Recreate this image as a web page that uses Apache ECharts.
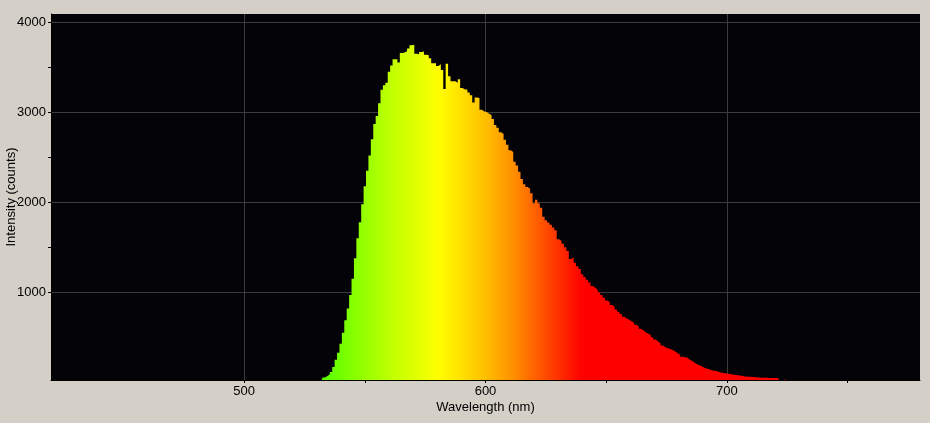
<!DOCTYPE html>
<html>
<head>
<meta charset="utf-8">
<script src="https://cdn.jsdelivr.net/npm/echarts@6/dist/echarts.min.js"></script>
<style>
html,body{margin:0;padding:0;background:#d4d0c8;}
#chart{width:930px;height:423px;}
</style>
</head>
<body>
<div id="chart"></div>
<script>
// Wavelength samples (nm)
const wavelengths = [
  530,531,532,533,534,535,536,537,538,539,
  540,541,542,543,544,545,546,547,548,549,
  550,551,552,553,554,555,556,557,558,559,
  560,561,562,563,564,565,566,567,568,569,
  570,571,572,573,574,575,576,577,578,579,
  580,581,582,583,584,585,586,587,588,589,
  590,591,592,593,594,595,596,597,598,599,
  600,601,602,603,604,605,606,607,608,609,
  610,611,612,613,614,615,616,617,618,619,
  620,621,622,623,624,625,626,627,628,629,
  630,631,632,633,634,635,636,637,638,639,
  640,641,642,643,644,645,646,647,648,649,
  650,651,652,653,654,655,656,657,658,659,
  660,661,662,663,664,665,666,667,668,669,
  670,671,672,673,674,675,676,677,678,679,
  680,681,682,683,684,685,686,687,688,689,
  690,691,692,693,694,695,696,697,698,699,
  700,701,702,703,704,705,706,707,708,709,
  710,711,712,713,714,715,716,717,718,719,
  720,721,722,723,724,725,726
];
// Intensity (counts)
const intensity = [
  10,12,20,55,70,90,115,170,250,330,
  430,550,690,820,970,1150,1380,1600,1780,1980,
  2180,2350,2520,2700,2870,2960,3100,3250,3300,3330,
  3450,3520,3590,3590,3555,3660,3665,3680,3710,3745,
  3750,3650,3645,3670,3675,3640,3635,3600,3545,3545,
  3515,3535,3470,3260,3540,3400,3345,3345,3330,3367,
  3270,3255,3255,3220,3190,3110,3165,3160,3030,3010,
  3005,2985,2970,2925,2860,2830,2780,2760,2695,2640,
  2580,2560,2450,2410,2340,2260,2200,2170,2150,2100,
  1990,2030,1990,1940,1840,1800,1775,1750,1720,1690,
  1590,1570,1540,1500,1460,1370,1390,1330,1290,1260,
  1200,1170,1140,1110,1070,1050,1030,1000,970,940,
  910,890,860,840,810,785,760,730,710,695,
  680,665,640,620,595,575,555,540,525,500,
  475,455,435,410,390,380,370,360,345,325,
  310,285,278,275,255,240,220,205,190,178,
  165,155,145,137,130,125,117,110,105,102,
  96,92,86,81,78,75,70,66,63,61,
  60,58,55,53,52,51,50,49,48,48,
  47,44,20,18,40,15,10
];
// Axis settings / tick labels
const xRange = [420, 780];
const yRange = [26, 4093];
const xTickValues = [500, 550, 600, 650, 700, 750];
const yTickValues = [1000, 1500, 2000, 2500, 3000, 3500, 4000];
const xLabelValues = [500, 600, 700];
const yLabelValues = [1000, 2000, 3000, 4000];

// Spectrum colour stops (wavelength -> colour)
const gradWl = [530, 540, 550, 560, 570, 580, 590, 600, 610, 620, 630, 640];
const gradColor = ['#50ff00','#73ff00','#96ff00','#beff00','#dcff00','#ffff00',
                   '#ffe100','#ffbe00','#ff9600','#ff6400','#ff3200','#ff0000'];

const vmColors = [];
for (let w = xRange[0]; w <= xRange[1]; w += 10) {
  let idx = gradWl.indexOf(w);
  if (w < gradWl[0]) idx = 0;
  else if (w > gradWl[gradWl.length - 1]) idx = gradWl.length - 1;
  vmColors.push(gradColor[idx]);
}

const seriesData = wavelengths.map((w, i) => [w, intensity[i]]);
const FONT = 'Liberation Sans';
const GRIDLINE = '#3c3c3c';

const chart = echarts.init(document.getElementById('chart'), null, {renderer: 'canvas'});
chart.setOption({
  backgroundColor: '#d4d0c8',
  animation: false,
  textStyle: {fontFamily: FONT},
  grid: {
    left: 51, right: 10, top: 14, bottom: 43,
    containLabel: false,
    outerBoundsMode: 'none',
    show: true, backgroundColor: '#040307', borderWidth: 0
  },
  visualMap: {
    show: false,
    type: 'continuous',
    dimension: 0,
    seriesIndex: 0,
    min: xRange[0],
    max: xRange[1],
    inRange: {color: vmColors}
  },
  xAxis: [{
    type: 'value',
    position: 'bottom',
    min: xRange[0],
    max: xRange[1],
    name: 'Wavelength (nm)',
    nameLocation: 'middle',
    nameGap: 21,
    nameMoveOverlap: false,
    nameTextStyle: {color: '#000', fontSize: 13, fontFamily: FONT},
    axisLine: {show: true, lineStyle: {color: '#000', width: 1}},
    axisTick: {show: true, length: 3, customValues: xTickValues, lineStyle: {color: '#000'}},
    axisLabel: {
      color: '#000', fontSize: 13, fontFamily: FONT, margin: 5,
      customValues: xLabelValues,
      formatter: v => (xLabelValues.indexOf(v) >= 0 ? String(v) : '')
    },
    splitLine: {show: false},
    z: 3
  }, {
    // grid lines only
    type: 'value',
    position: 'top',
    min: xRange[0],
    max: xRange[1],
    axisLine: {show: false},
    axisTick: {show: false, customValues: xLabelValues},
    axisLabel: {show: false},
    splitLine: {show: true, lineStyle: {color: GRIDLINE, width: 1}}
  }],
  yAxis: [{
    type: 'value',
    position: 'left',
    min: yRange[0],
    max: yRange[1],
    name: 'Intensity (counts)',
    nameLocation: 'middle',
    nameGap: 33,
    nameMoveOverlap: false,
    nameTextStyle: {color: '#000', fontSize: 13, fontFamily: FONT},
    axisLine: {show: true, lineStyle: {color: '#000', width: 1}},
    axisTick: {show: true, length: 3, customValues: yTickValues, lineStyle: {color: '#000'}},
    axisLabel: {
      color: '#000', fontSize: 13, fontFamily: FONT, margin: 5,
      customValues: yLabelValues,
      formatter: v => (yLabelValues.indexOf(v) >= 0 ? String(v) : '')
    },
    splitLine: {show: false},
    z: 3
  }, {
    type: 'value',
    position: 'right',
    min: yRange[0],
    max: yRange[1],
    axisLine: {show: false},
    axisTick: {show: false, customValues: yLabelValues},
    axisLabel: {show: false},
    splitLine: {show: true, lineStyle: {color: GRIDLINE, width: 1}}
  }],
  series: [{
    type: 'line',
    xAxisIndex: 0,
    yAxisIndex: 0,
    data: seriesData,
    step: 'middle',
    showSymbol: false,
    symbol: 'none',
    clip: true,
    lineStyle: {width: 1, opacity: 0},
    areaStyle: {opacity: 1},
    silent: true
  }]
});
</script>
</body>
</html>
